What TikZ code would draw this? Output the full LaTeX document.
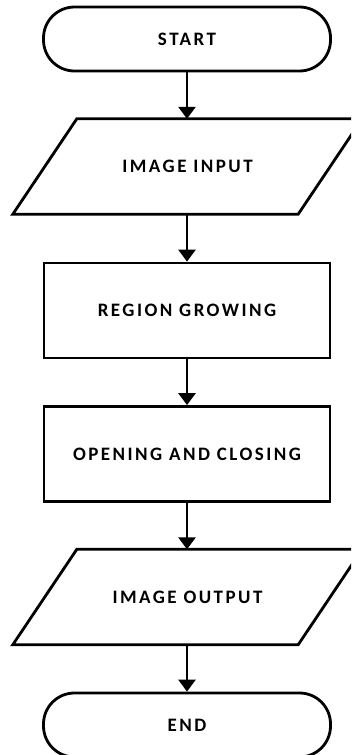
\documentclass[tikz,border=0pt]{standalone}
\usepackage{fontspec}
\setmainfont{Carlito}[LetterSpace=13]
\usetikzlibrary{arrows.meta,calc}
\begin{document}
\begin{tikzpicture}[x=1pt,y=-1pt,
  every node/.style={font=\fontsize{19}{22}\selectfont\bfseries},
  term/.style={draw, line width=2.8pt, minimum width=287pt, minimum height=64pt, rounded corners=31pt},
  procbox/.style={draw, line width=2.8pt, minimum width=286pt, minimum height=95pt},
  iobox/.style={minimum width=285pt, minimum height=95pt, inner sep=0pt},
  flow/.style={line width=2.8pt, -{Triangle[length=12pt,width=17pt]}}]
\useasboundingbox (0,0) rectangle (351,755);
\clip (0,0) rectangle (351,755);
\fill[white] (0,0) rectangle (351,755);
\node[term] (start) at (187,39) {START};
\node[iobox] (in) at (187.5,166.5) {IMAGE INPUT};
\draw[line width=2.8pt, line join=miter]
  ($(in.north west)+(32,0)$) -- ($(in.north east)+(32,0)$) --
  ($(in.south east)-(32,0)$) -- ($(in.south west)-(32,0)$) -- cycle;
\node[procbox] (rg) at (187,310.5) {REGION GROWING};
\node[procbox] (oc) at (187,454) {OPENING AND CLOSING};
\node[iobox] (out) at (187.5,597) {IMAGE OUTPUT};
\draw[line width=2.8pt, line join=miter]
  ($(out.north west)+(32,0)$) -- ($(out.north east)+(32,0)$) --
  ($(out.south east)-(32,0)$) -- ($(out.south west)-(32,0)$) -- cycle;
\node[term] (end) at (187,725) {END};
\draw[flow] (start.south) -- (start.south |- in.north);
\draw[flow] (start.south |- in.south) -- (rg.north);
\draw[flow] (rg.south) -- (oc.north);
\draw[flow] (oc.south) -- (oc.south |- out.north);
\draw[flow] (oc.south |- out.south) -- (end.north);
\end{tikzpicture}
\end{document}
